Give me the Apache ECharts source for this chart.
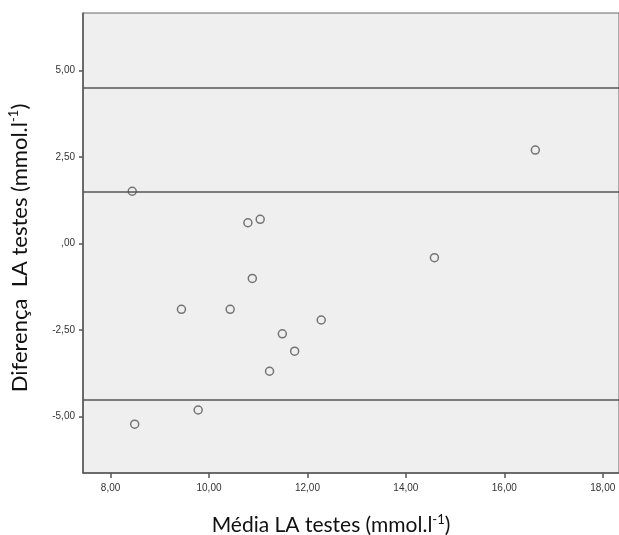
<!DOCTYPE html>
<html>
<head>
<meta charset="utf-8">
<script src="https://cdn.jsdelivr.net/npm/echarts@6/dist/echarts.min.js"></script>
<style>
html,body{margin:0;padding:0;background:#fff;}
#chart{width:619px;height:535px;}
</style>
</head>
<body>
<div id="chart"></div>
<script>
// Data (Bland-Altman style plot)
const meanValues = [8.44, 10.79, 11.04, 10.88, 9.44, 10.43, 12.28, 11.49, 11.74, 11.23, 9.78, 8.49, 16.63, 14.58];
const diffValues = [1.51, 0.60, 0.70, -1.01, -1.90, -1.90, -2.21, -2.61, -3.11, -3.69, -4.81, -5.22, 2.70, -0.41];
const refLines = [4.5, 1.5, -4.5];
const xTicks = [8, 10, 12, 14, 16, 18];
const yTicks = [-5, -2.5, 0, 2.5, 5];
const xTitle = 'Média LA testes (mmol.l{sup|-1})';
const yTitle = 'Diferença  LA testes (mmol.l{sup|-1})';

function fmt(v) {
  let s = Math.abs(v).toFixed(2).replace('.', ',');
  if (s.startsWith('0')) s = s.slice(1);
  return (v < 0 ? '-' : '') + s;
}

const points = meanValues.map((x, i) => [x, diffValues[i]]);

function titleStyle(size, padding) {
  return {
    fontFamily: 'Lato',
    fontSize: size,
    color: '#111',
    padding: padding,
    rich: {
      sup: { fontFamily: 'Lato', fontSize: Math.round(size * 0.6), color: '#111', verticalAlign: 'top', lineHeight: size + 4 }
    }
  };
}

const chart = echarts.init(document.getElementById('chart'), null, { renderer: 'canvas' });
chart.setOption({
  animation: false,
  backgroundColor: '#ffffff',
  grid: {
    left: 83, top: 13, right: 0, bottom: 62,
    containLabel: false,
    outerBoundsMode: 'none',
    show: true,
    backgroundColor: '#efefef',
    borderColor: '#666',
    borderWidth: 1
  },
  xAxis: {
    type: 'value',
    min: 7.44, max: 18.33,
    splitLine: { show: false },
    axisLine: { show: true, onZero: false, lineStyle: { color: '#555', width: 1.5 } },
    axisTick: { show: true, length: 5, customValues: xTicks, lineStyle: { color: '#555', width: 1.5 } },
    axisLabel: {
      customValues: xTicks, formatter: fmt, margin: 10,
      fontFamily: 'Liberation Sans', fontSize: 10, color: '#333'
    },
    name: xTitle,
    nameLocation: 'middle',
    nameGap: 40,
    nameTextStyle: titleStyle(21, [0, 40, 0, 0])
  },
  yAxis: {
    type: 'value',
    min: -6.63, max: 6.66,
    splitLine: { show: false },
    axisLine: { show: true, onZero: false, lineStyle: { color: '#555', width: 1.5 } },
    axisTick: { show: true, length: 4, customValues: yTicks, lineStyle: { color: '#555', width: 1.5 } },
    axisLabel: {
      customValues: yTicks, formatter: fmt, margin: 8,
      fontFamily: 'Liberation Sans', fontSize: 10, color: '#333'
    },
    name: yTitle,
    nameLocation: 'middle',
    nameGap: 50,
    nameTextStyle: titleStyle(22, [0, 10, 0, 0])
  },
  series: [{
    type: 'scatter',
    data: points,
    symbol: 'circle',
    symbolSize: 8,
    itemStyle: { color: 'rgba(0,0,0,0)', borderColor: '#555', borderWidth: 1.5 },
    markLine: {
      silent: true,
      symbol: 'none',
      label: { show: false },
      lineStyle: { color: '#555', width: 1.5, type: 'solid' },
      data: refLines.map(v => ({ yAxis: v }))
    }
  }]
});
</script>
</body>
</html>
